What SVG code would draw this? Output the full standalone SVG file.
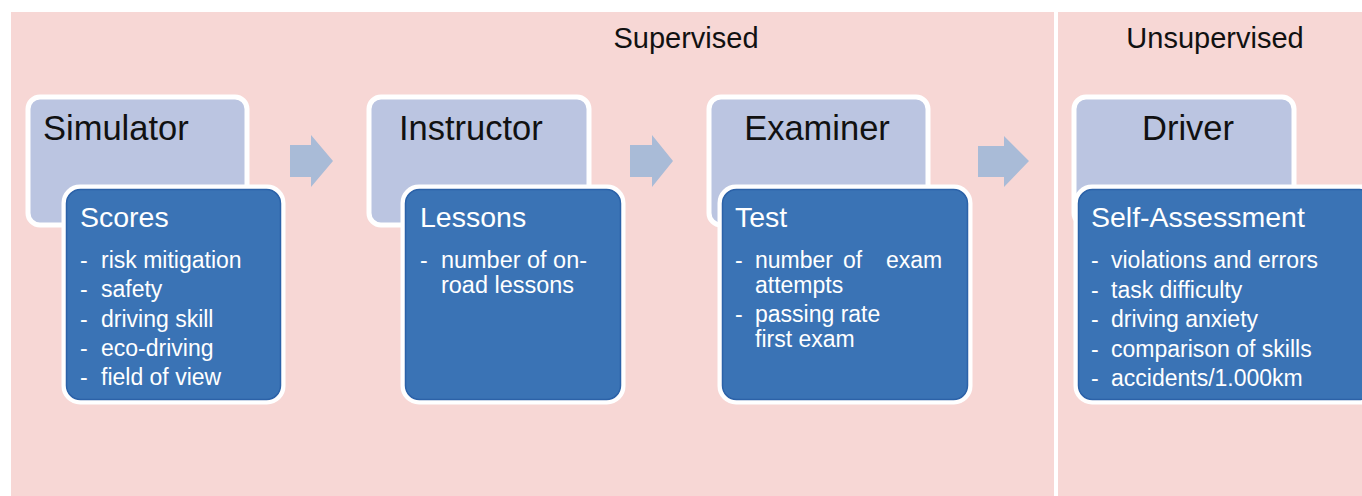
<svg xmlns="http://www.w3.org/2000/svg" width="1362" height="496" viewBox="0 0 1362 496">
<style>
.bg{fill:#F7D7D5}
.light{fill:#BBC5E1;stroke:#FFFFFF;stroke-width:5}
.dark{fill:#3A73B5;stroke:#FFFFFF;stroke-width:5}
.darkin{fill:none;stroke:#2C62A8;stroke-width:1.5}
.arrow{fill:#A9BBD7}
.sec{font-family:"Liberation Sans",Arial,sans-serif;font-size:29px;fill:#111111}
.title{font-family:"Liberation Sans",Arial,sans-serif;font-size:34.5px;fill:#111111}
.head{font-family:"Liberation Sans",Arial,sans-serif;font-size:28.5px;fill:#FFFFFF}
.item{font-family:"Liberation Sans",Arial,sans-serif;font-size:23px;fill:#FFFFFF}
</style>
<rect x="0" y="0" width="1362" height="496" fill="#FFFFFF"/>
<rect class="bg" x="11" y="12" width="1351" height="484"/>
<rect x="1054" y="12" width="4" height="484" fill="#FFFFFF"/>
<text class="sec" x="686" y="48" text-anchor="middle">Supervised</text>
<text class="sec" x="1215" y="48" text-anchor="middle">Unsupervised</text>

<g id="connectors">
<polygon class="arrow" points="290,145 311,145 311,135 333,161 311,187 311,177 290,177"/>
<polygon class="arrow" points="630,145 652,145 652,135 673,161 652,187 652,177 630,177"/>
<polygon class="arrow" points="978,146 1004,146 1004,136 1029,161 1004,187 1004,177 978,177"/>
</g>

<g id="simulator">
<rect class="light" x="28" y="97" width="219" height="128" rx="12"/>
<text class="title" x="43" y="140">Simulator</text>
</g>
<g id="scores">
<rect class="dark" x="64" y="187" width="219" height="215" rx="16"/>
<rect class="darkin" x="66.5" y="189.5" width="214" height="210" rx="14"/>
<text class="head" x="80" y="227">Scores</text>
<text class="item" x="80" y="268">-</text><text class="item" x="101" y="268">risk mitigation</text>
<text class="item" x="80" y="297">-</text><text class="item" x="101" y="297">safety</text>
<text class="item" x="80" y="327">-</text><text class="item" x="101" y="327">driving skill</text>
<text class="item" x="80" y="356">-</text><text class="item" x="101" y="356">eco-driving</text>
<text class="item" x="80" y="385">-</text><text class="item" x="101" y="385">field of view</text>
</g>

<g id="instructor">
<rect class="light" x="369" y="97" width="220" height="128" rx="12"/>
<text class="title" x="399" y="140">Instructor</text>
</g>
<g id="lessons">
<rect class="dark" x="403" y="187" width="220" height="215" rx="16"/>
<rect class="darkin" x="405.5" y="189.5" width="215" height="210" rx="14"/>
<text class="head" x="420" y="227">Lessons</text>
<text class="item" x="420" y="268">-</text><text class="item" x="441" y="268" textLength="146" lengthAdjust="spacingAndGlyphs">number of on-</text>
<text class="item" x="441" y="293" textLength="133" lengthAdjust="spacingAndGlyphs">road lessons</text>
</g>

<g id="examiner">
<rect class="light" x="709" y="97" width="219" height="128" rx="12"/>
<text class="title" x="817" y="140" text-anchor="middle">Examiner</text>
</g>
<g id="test">
<rect class="dark" x="720" y="187" width="250" height="215" rx="16"/>
<rect class="darkin" x="722.5" y="189.5" width="245" height="210" rx="14"/>
<text class="head" x="735" y="227">Test</text>
<text class="item" x="735" y="268">-</text><text class="item" x="755" y="268">number</text><text class="item" x="843" y="268">of</text><text class="item" x="886" y="268">exam</text>
<text class="item" x="755" y="293">attempts</text>
<text class="item" x="735" y="322">-</text><text class="item" x="755" y="322">passing rate</text>
<text class="item" x="755" y="347">first exam</text>
</g>

<g id="driver">
<rect class="light" x="1074" y="97" width="220" height="128" rx="12"/>
<text class="title" x="1188" y="140" text-anchor="middle">Driver</text>
</g>
<g id="self-assessment">
<rect class="dark" x="1076" y="187" width="300" height="215" rx="16"/>
<rect class="darkin" x="1078.5" y="189.5" width="295" height="210" rx="14"/>
<text class="head" x="1091" y="227">Self-Assessment</text>
<text class="item" x="1091" y="268">-</text><text class="item" x="1111" y="268">violations and errors</text>
<text class="item" x="1091" y="298">-</text><text class="item" x="1111" y="298">task difficulty</text>
<text class="item" x="1091" y="327">-</text><text class="item" x="1111" y="327">driving anxiety</text>
<text class="item" x="1091" y="357">-</text><text class="item" x="1111" y="357">comparison of skills</text>
<text class="item" x="1091" y="386">-</text><text class="item" x="1111" y="386">accidents/1.000km</text>
</g>
</svg>
